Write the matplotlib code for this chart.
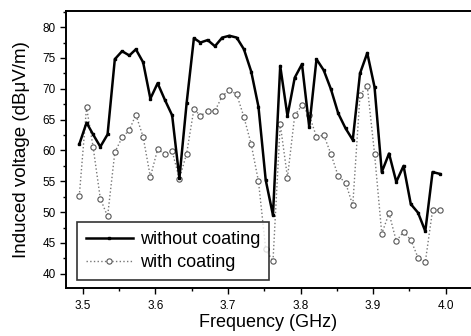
import matplotlib
matplotlib.use("Agg")
import matplotlib.pyplot as plt
from matplotlib.ticker import MultipleLocator

plt.rcParams['font.family'] = ['Liberation Sans', 'DejaVu Sans']

freq = [3.495, 3.505, 3.514, 3.524, 3.534, 3.544, 3.554, 3.564, 3.573, 3.583,
        3.593, 3.603, 3.613, 3.623, 3.633, 3.643, 3.653, 3.662, 3.672, 3.682,
        3.692, 3.702, 3.712, 3.722, 3.732, 3.742, 3.752, 3.762, 3.772, 3.782,
        3.792, 3.802, 3.812, 3.822, 3.832, 3.842, 3.852, 3.862, 3.872, 3.882,
        3.892, 3.902, 3.912, 3.922, 3.932, 3.942, 3.952, 3.962, 3.972, 3.982,
        3.992]

without_coating = [61.0, 64.5, 62.6, 60.6, 62.6, 74.8, 76.1, 75.4, 76.4, 74.3,
                   68.4, 70.9, 68.2, 65.7, 55.5, 67.7, 78.2, 77.5, 77.9, 76.9,
                   78.3, 78.6, 78.3, 76.4, 72.8, 67.1, 55.2, 49.5, 73.7, 65.6,
                   71.8, 74.0, 63.8, 74.8, 73.0, 69.9, 66.0, 63.6, 61.7, 72.5,
                   75.8, 70.3, 56.5, 59.5, 54.9, 57.5, 51.3, 49.9, 46.9, 56.5,
                   56.2]

with_coating = [52.6, 67.0, 60.6, 52.2, 49.3, 59.7, 62.1, 63.3, 65.8, 62.2,
                55.7, 60.2, 59.4, 59.9, 55.4, 59.5, 66.7, 65.6, 66.4, 66.4,
                68.8, 69.8, 69.1, 65.4, 61.0, 55.0, 44.0, 42.0, 64.3, 55.6,
                65.7, 67.3, 65.7, 62.2, 62.5, 59.4, 55.8, 54.8, 51.1, 69.0,
                70.4, 59.5, 46.5, 49.8, 45.3, 46.8, 45.5, 42.6, 41.9, 50.3,
                50.4]

fig = plt.figure(figsize=(4.71, 3.36), dpi=100)
ax = fig.add_axes([0.140, 0.143, 0.86, 0.824])

ax.plot(freq, with_coating, color='#777777', linestyle=':', linewidth=1.0,
        marker='o', markersize=3.8, markerfacecolor='white',
        markeredgecolor='#555555', markeredgewidth=0.8, label='with coating')
ax.plot(freq, without_coating, color='black', linestyle='-', linewidth=1.8,
        marker='s', markersize=2.0, label='without coating')

ax.set_xlim(3.4766, 4.035)
ax.set_ylim(37.7, 82.6)
ax.xaxis.set_major_locator(MultipleLocator(0.1))
ax.xaxis.set_minor_locator(MultipleLocator(0.05))
ax.yaxis.set_major_locator(MultipleLocator(5))
ax.yaxis.set_minor_locator(MultipleLocator(2.5))
ax.xaxis.set_major_formatter(plt.FormatStrFormatter('%.1f'))
ax.tick_params(which='major', direction='out', length=4, width=1, labelsize=8.5)
ax.tick_params(axis='x', which='major', pad=5)
ax.tick_params(which='minor', direction='out', length=2.5, width=1)

for s in ['left', 'bottom', 'top']:
    ax.spines[s].set_linewidth(1.4)
ax.spines['right'].set_visible(False)

ax.set_xlabel('Frequency (GHz)', fontsize=13, labelpad=1)
ax.set_ylabel('Induced voltage (dB\u03bcV/m)', fontsize=13.5, labelpad=9)

h, l = ax.get_legend_handles_labels()
leg = ax.legend(h[::-1], l[::-1], loc='lower left',
                bbox_to_anchor=(0.027, 0.029), borderaxespad=0,
                fontsize=13, frameon=True, fancybox=False, edgecolor='black',
                handlelength=2.6, borderpad=0.5, labelspacing=0.3,
                handletextpad=0.4)
leg.get_frame().set_linewidth(1.2)

fig.savefig('out.png', dpi=100)
